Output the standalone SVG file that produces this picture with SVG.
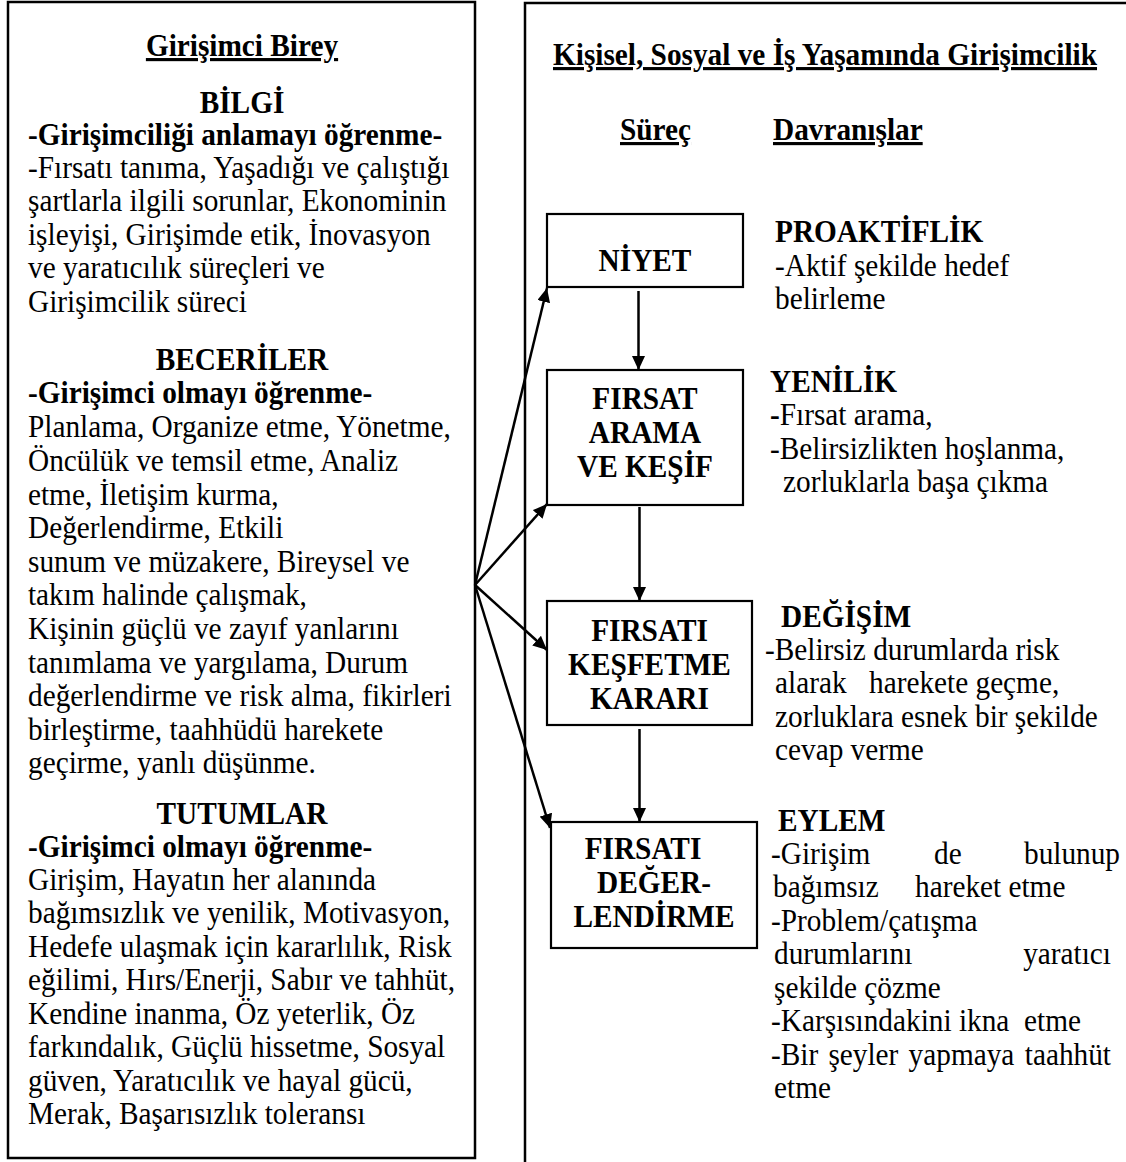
<svg xmlns="http://www.w3.org/2000/svg" width="1126" height="1162" viewBox="0 0 1126 1162">
<style>
text{font-family:"Liberation Serif","Times New Roman",serif;font-size:29.3px;fill:#000;transform-box:fill-box;transform-origin:0 80.5%;transform:scaleY(1.07)}
.b{font-weight:bold}
.u{text-decoration:underline}
.c{text-anchor:middle}
.e{text-anchor:end}
.frame{fill:#fff;stroke:#000;stroke-width:2.5}
.box{fill:#fff;stroke:#000;stroke-width:2.2}
.conn line{stroke:#000;stroke-width:2.5;marker-end:url(#ah)}
</style>
<defs>
<marker id="ah" markerUnits="userSpaceOnUse" markerWidth="14" markerHeight="13" refX="14" refY="6.5" orient="auto">
<path d="M0,0 L14,6.5 L0,13 z" fill="#000"/>
</marker>
</defs>
<rect width="1126" height="1162" fill="#fff"/>

<g id="left-panel">
<rect class="frame" x="8" y="2" width="467" height="1156"/>
<text class="b u c" x="242" y="56">Girişimci Birey</text>
<text class="b c" x="242" y="113">BİLGİ</text>
<text class="b" x="28" y="145">-Girişimciliği anlamayı öğrenme-</text>
<text x="28" y="178">-Fırsatı tanıma, Yaşadığı ve çalıştığı</text>
<text x="28" y="211.5">şartlarla ilgili sorunlar, Ekonominin</text>
<text x="28" y="245">işleyişi, Girişimde etik, İnovasyon</text>
<text x="28" y="278.5">ve yaratıcılık süreçleri ve</text>
<text x="28" y="312">Girişimcilik süreci</text>
<text class="b c" x="242" y="370">BECERİLER</text>
<text class="b" x="28" y="403.5">-Girişimci olmayı öğrenme-</text>
<text x="28" y="437.5">Planlama, Organize etme, Yönetme,</text>
<text x="28" y="471.1">Öncülük ve temsil etme, Analiz</text>
<text x="28" y="504.7">etme, İletişim kurma,</text>
<text x="28" y="538.3">Değerlendirme, Etkili</text>
<text x="28" y="571.9">sunum ve müzakere, Bireysel ve</text>
<text x="28" y="605.5">takım halinde çalışmak,</text>
<text x="28" y="639.1">Kişinin güçlü ve zayıf yanlarını</text>
<text x="28" y="672.7">tanımlama ve yargılama, Durum</text>
<text x="28" y="706.3">değerlendirme ve risk alma, fikirleri</text>
<text x="28" y="739.9">birleştirme, taahhüdü harekete</text>
<text x="28" y="773.5">geçirme, yanlı düşünme.</text>
<text class="b c" x="242" y="824">TUTUMLAR</text>
<text class="b" x="28" y="857.3">-Girişimci olmayı öğrenme-</text>
<text x="28" y="890">Girişim, Hayatın her alanında</text>
<text x="28" y="923.5">bağımsızlık ve yenilik, Motivasyon,</text>
<text x="28" y="957">Hedefe ulaşmak için kararlılık, Risk</text>
<text x="28" y="990.5">eğilimi, Hırs/Enerji, Sabır ve tahhüt,</text>
<text x="28" y="1024">Kendine inanma, Öz yeterlik, Öz</text>
<text x="28" y="1057.5">farkındalık, Güçlü hissetme, Sosyal</text>
<text x="28" y="1091">güven, Yaratıcılık ve hayal gücü,</text>
<text x="28" y="1124.5">Merak, Başarısızlık toleransı</text>
</g>

<g id="right-panel">
<rect class="frame" x="525" y="3" width="640" height="1200"/>
<text class="b u" x="553" y="65">Kişisel, Sosyal ve İş Yaşamında Girişimcilik</text>
<text class="b u" x="620" y="140">Süreç</text>
<text class="b u" x="773" y="140">Davranışlar</text>
</g>

<g id="node-niyet">
<rect class="box" x="547" y="214" width="196" height="73"/>
<text class="b c" x="645" y="271">NİYET</text>
</g>
<g id="node-firsat-arama">
<rect class="box" x="547" y="370" width="196" height="135"/>
<text class="b c" x="645" y="409">FIRSAT</text>
<text class="b c" x="645" y="443">ARAMA</text>
<text class="b c" x="645" y="477">VE KEŞİF</text>
</g>
<g id="node-kesfetme">
<rect class="box" x="547" y="601" width="205" height="124"/>
<text class="b c" x="649.5" y="641">FIRSATI</text>
<text class="b c" x="649.5" y="675">KEŞFETME</text>
<text class="b c" x="649.5" y="709">KARARI</text>
</g>
<g id="node-degerlendirme">
<rect class="box" x="551" y="822" width="206" height="126"/>
<text class="b c" x="643" y="859">FIRSATI</text>
<text class="b c" x="654" y="893">DEĞER-</text>
<text class="b c" x="654" y="927">LENDİRME</text>
</g>

<g id="behav-proaktiflik">
<text class="b" x="775" y="242">PROAKTİFLİK</text>
<text x="775" y="276">-Aktif şekilde hedef</text>
<text x="775" y="309.5">belirleme</text>
</g>
<g id="behav-yenilik">
<text class="b" x="770" y="392">YENİLİK</text>
<text x="770" y="425.5"><tspan class="b">-</tspan>Fırsat arama,</text>
<text x="770" y="459">-Belirsizlikten hoşlanma,</text>
<text x="783" y="492.5">zorluklarla başa çıkma</text>
</g>
<g id="behav-degisim">
<text class="b" x="781" y="627">DEĞİŞİM</text>
<text x="765" y="660">-Belirsiz durumlarda risk</text>
<text x="775" y="693.5">alarak</text>
<text x="869" y="693.5">harekete geçme,</text>
<text x="775" y="727">zorluklara esnek bir şekilde</text>
<text x="775" y="760.5">cevap verme</text>
</g>
<g id="behav-eylem">
<text class="b" x="778" y="831">EYLEM</text>
<text x="771" y="864">-Girişim</text>
<text x="934" y="864">de</text>
<text class="e" x="1120" y="864">bulunup</text>
<text x="773" y="897.5">bağımsız</text>
<text x="915" y="897.5">hareket etme</text>
<text x="771" y="931">-Problem/çatışma</text>
<text x="774" y="964.5">durumlarını</text>
<text class="e" x="1111" y="964.5">yaratıcı</text>
<text x="774" y="998">şekilde çözme</text>
<text x="771" y="1031.5">-Karşısındakini ikna</text>
<text class="e" x="1081" y="1031.5">etme</text>
<text x="771" y="1065">-Bir</text>
<text x="828.4" y="1065">şeyler</text>
<text x="908.6" y="1065">yapmaya</text>
<text class="e" x="1111" y="1065">taahhüt</text>
<text x="774" y="1098.5">etme</text>
</g>

<g id="connectors" class="conn">
<line x1="638.5" y1="291" x2="638.5" y2="370"/>
<line x1="639.5" y1="507" x2="639.5" y2="601"/>
<line x1="639.5" y1="729" x2="639.5" y2="822"/>
<line x1="475" y1="585" x2="547" y2="288"/>
<line x1="475" y1="585" x2="547" y2="504"/>
<line x1="475" y1="585" x2="547" y2="650"/>
<line x1="475" y1="585" x2="550" y2="828"/>
</g>
</svg>
